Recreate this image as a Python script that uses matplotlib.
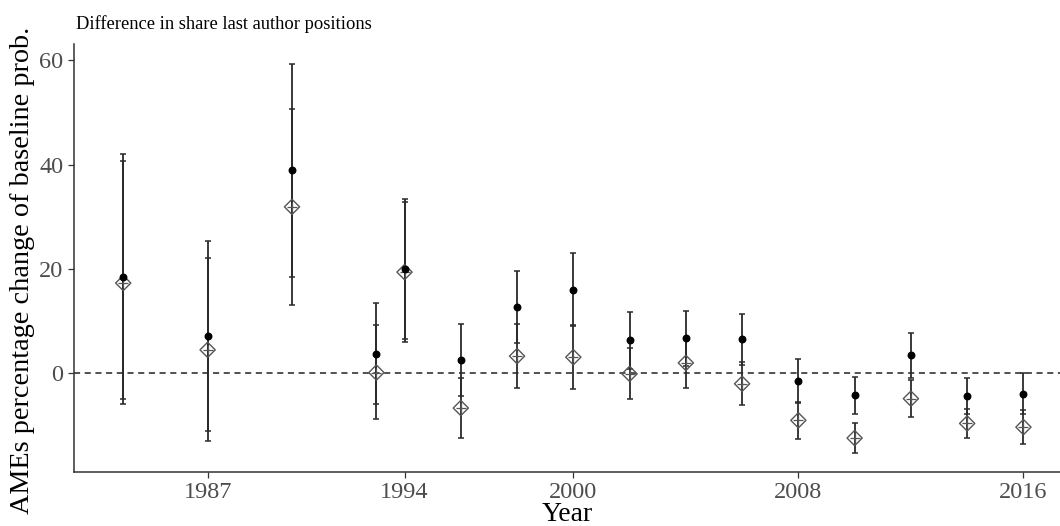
import matplotlib.pyplot as plt

# marginal effects per year: filled dots and diamond-plus points, each with its own interval
years = [1984, 1987, 1990, 1993, 1994, 1996, 1998, 2000, 2002, 2004, 2006, 2008, 2010, 2012, 2014, 2016]

dot_est = [18.5, 7.1, 38.9, 3.8, 20.0, 2.5, 12.8, 16.0, 6.3, 6.8, 6.5, -1.5, -4.2, 3.45, -4.3, -3.9]
dot_lo = [-5.0, -11.1, 18.45, -5.8, 6.6, -4.4, 5.8, 9.0, 0.9, 1.5, 1.6, -5.7, -7.7, -0.9, -7.7, -7.85]
dot_hi = [42.1, 25.3, 59.3, 13.5, 33.4, 9.4, 19.7, 23.1, 11.7, 12.0, 11.4, 2.7, -0.7, 7.8, -0.9, 0.06]

dia_est = [17.3, 4.5, 31.9, 0.15, 19.4, -6.65, 3.3, 3.1, -0.1, 2.0, -2.0, -9.0, -12.4, -4.85, -9.6, -10.3]
dia_lo = [-5.8, -13.0, 13.0, -8.8, 6.1, -12.4, -2.75, -3.0, -5.0, -2.8, -6.1, -12.6, -15.3, -8.4, -12.4, -13.5]
dia_hi = [40.6, 22.1, 50.7, 9.2, 32.8, -0.9, 9.4, 9.2, 4.8, 6.8, 2.1, -5.4, -9.5, -1.3, -6.8, -7.1]

plt.rcParams['font.family'] = ['Liberation Serif', 'DejaVu Serif']

fig = plt.figure(figsize=(10.6, 5.26), dpi=100)
ax = fig.add_axes([0.0698, 0.1027, 0.9302, 0.8136])

ax.axhline(0, color='#222222', lw=1.1, ls=(0, (4, 3)), zorder=1)

def bars(est, lo, hi):
    yerr = [[e - l for e, l in zip(est, lo)], [h - e for e, h in zip(est, hi)]]
    ax.errorbar(years, est, yerr=yerr, fmt='none', ecolor='#2a2a2a',
                elinewidth=1.3, capsize=2.2, capthick=1.1, zorder=2)

bars(dot_est, dot_lo, dot_hi)
bars(dia_est, dia_lo, dia_hi)

ax.scatter(years, dia_est, marker='D', s=60, facecolors='none', edgecolors='#555555',
           linewidths=1.0, zorder=3)
ax.scatter(years, dia_est, marker='+', s=60, color='#555555', linewidths=0.9, zorder=3)
ax.scatter(years, dot_est, marker='o', s=22, color='black', zorder=4)

ax.set_xlim(1982.25, 2017.3)
ax.set_ylim(-18.9, 63.1)
ax.set_xticks([1987, 1994, 2000, 2008, 2016])
ax.set_yticks([0, 20, 40, 60])

for side in ['top', 'right']:
    ax.spines[side].set_visible(False)
for side in ['left', 'bottom']:
    ax.spines[side].set_color('#333333')
    ax.spines[side].set_linewidth(1.1)

ax.tick_params(axis='both', colors='#333333', labelcolor='#4d4d4d', labelsize=17.5,
               length=4, width=0.9)

ax.set_xlabel('Year', fontsize=20, labelpad=-1)
ax.set_ylabel('AMEs percentage change of baseline prob.', fontsize=20.3)
ax.yaxis.set_label_coords(-0.04, 0.472)
ax.set_title('Difference in share last author positions', fontsize=13.3, loc='left',
             x=0.002, pad=11)

fig.savefig('out.png', dpi=100)
